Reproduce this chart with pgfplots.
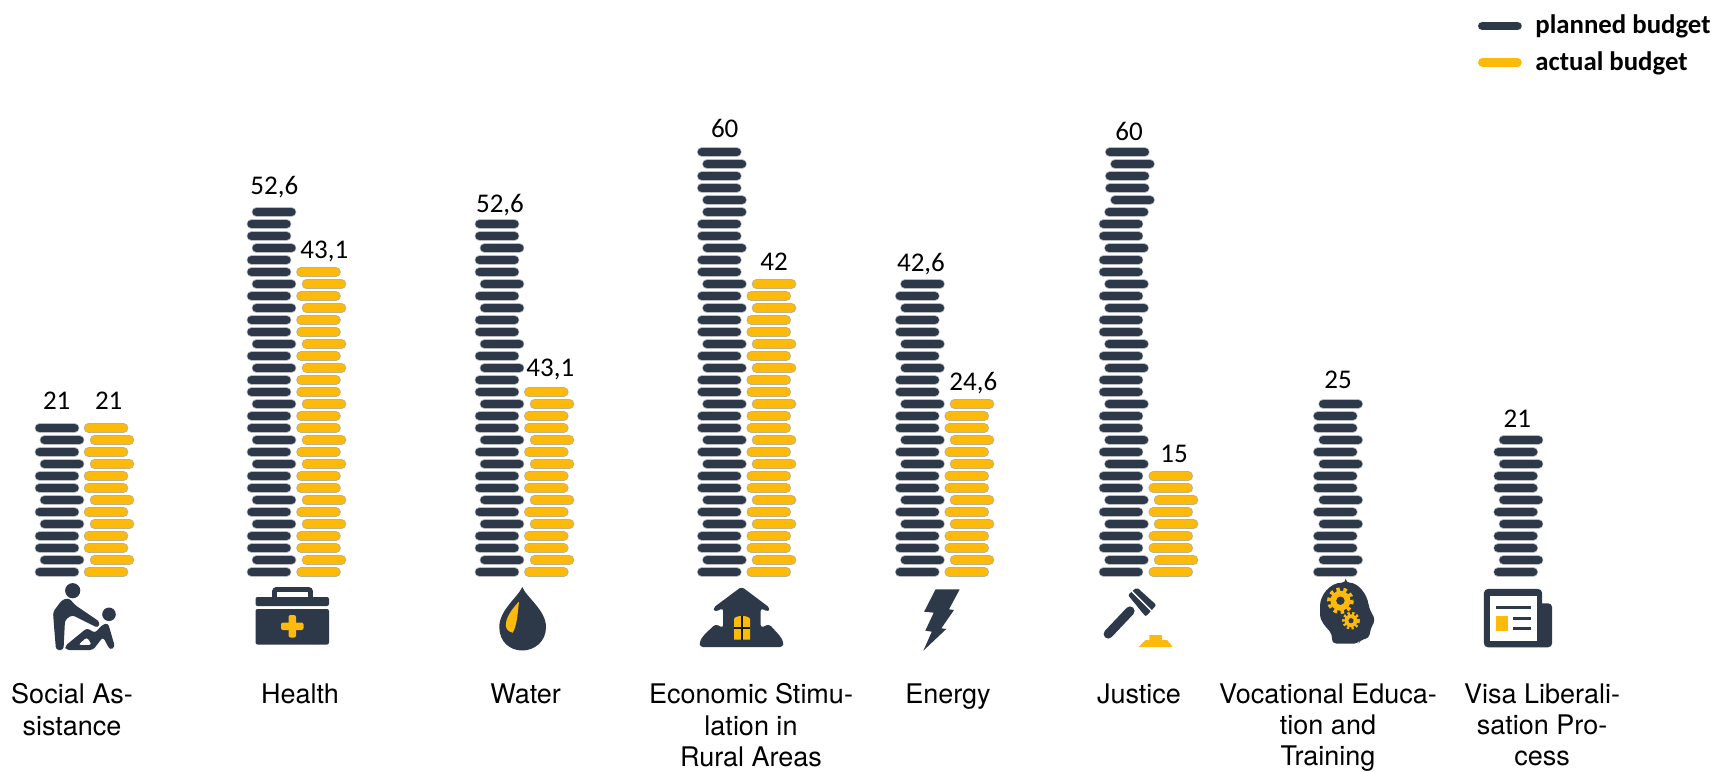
\documentclass[border=0pt]{standalone}
\usepackage{pgfplots}
\usepackage{fontspec}
\pgfplotsset{compat=1.18}
\setmainfont{TeX Gyre Heros}
\newfontfamily\carlito{Carlito}
\definecolor{navy}{HTML}{2D3849}
\definecolor{navyhalo}{HTML}{B9BDC3}
\definecolor{gold}{HTML}{FDBA0A}
\definecolor{goldhalo}{HTML}{BDB28A}
\newcommand{\brickpath}{\pgfpathmoveto{\pgfqpoint{-8.75pt}{0pt}}\pgfpathlineto{\pgfqpoint{8.75pt}{0pt}}\pgfusepathqstroke}
\pgfdeclareplotmark{brickN}{\pgfsetroundcap\pgfsetlinewidth{4.9pt}\pgfsetstrokecolor{navyhalo}\brickpath\pgfsetlinewidth{4.2pt}\pgfsetstrokecolor{navy}\brickpath}
\pgfdeclareplotmark{brickA}{\pgfsetroundcap\pgfsetlinewidth{4.8pt}\pgfsetstrokecolor{goldhalo}\brickpath\pgfsetlinewidth{3.8pt}\pgfsetstrokecolor{gold}\brickpath}
\begin{document}
\begin{tikzpicture}
\begin{axis}[
  scale only axis, width=858.5pt, height=385.5pt,
  xmin=0, xmax=1717, ymin=-16.583, ymax=47.667,
  clip=false, axis line style={draw=none},
  ytick=\empty, tick style={draw=none},
  xtick={72,300,525.6,751,948,1139,1328,1542},
  xticklabels={{Social As-\\sistance},{Health},{Water},{Economic Stimu-\\lation in\\Rural Areas},{Energy},{Justice},{Vocational Educa-\\tion and\\Training},{Visa Liberali-\\sation Pro-\\cess}},
  x tick label style={align=center, anchor=north, yshift=47.2pt, font=\fontsize{13.5}{15.6}\selectfont},
  legend cell align=left,
  legend style={at={(axis cs:1478,46.66)}, anchor=north west, draw=none, fill=none, inner sep=0pt, outer sep=0pt,
    font=\carlito\bfseries\fontsize{13.4}{15}\selectfont, row sep=4.3pt, column sep=3.8pt,
    nodes={inner xsep=3pt, inner ysep=1.5pt}},
  nodes near coords style={anchor=center, font=\carlito\fontsize{13.5}{16}\selectfont, text=black, inner sep=0pt},
]
% planned budget: brick centre x (pixels of the picture), brick row
\addplot[only marks, mark=brickN,
  legend image code/.code={\draw[line width=4.4pt, line cap=round, navy] (0pt,0pt) -- (17.5pt,0pt);}]
coordinates {
 (57,0)(62,1)(57,2)(57,3)(62,4)(57,5)(62,6)(57,7)(57,8)(62,9)(57,10)(62,11)(57,12)
 (269,0)(274,1)(269,2)(269,3)(274,4)(269,5)(274,6)(269,7)(269,8)(274,9)(269,10)(274,11)(269,12)(269,13)(274,14)(269,15)(269,16)(274,17)(269,18)(274,19)(269,20)(269,21)(274,22)(269,23)(274,24)(269,25)(269,26)(274,27)(269,28)(269,29)(274,30)
 (497,0)(502,1)(497,2)(497,3)(502,4)(497,5)(502,6)(497,7)(497,8)(502,9)(497,10)(502,11)(497,12)(497,13)(502,14)(497,15)(497,16)(502,17)(497,18)(502,19)(497,20)(497,21)(502,22)(497,23)(502,24)(497,25)(497,26)(502,27)(497,28)(497,29)
 (719.3,0)(724.5,1)(719.3,2)(719.3,3)(724.5,4)(719.3,5)(724.5,6)(719.3,7)(719.3,8)(724.5,9)(719.3,10)(724.5,11)(719.3,12)(719.3,13)(724.5,14)(719.3,15)(719.3,16)(724.5,17)(719.3,18)(724.5,19)(719.3,20)(719.3,21)(724.5,22)(719.3,23)(724.5,24)(719.3,25)(719.3,26)(724.5,27)(719.3,28)(719.3,29)(724.5,30)(724.5,31)(719.3,32)(719.3,33)(724.5,34)(719.3,35)
 (917.3,0)(922.5,1)(917.3,2)(917.3,3)(922.5,4)(917.3,5)(922.5,6)(917.3,7)(917.3,8)(922.5,9)(917.3,10)(922.5,11)(917.3,12)(917.3,13)(922.5,14)(917.3,15)(917.3,16)(922.5,17)(917.3,18)(922.5,19)(917.3,20)(917.3,21)(922.5,22)(917.3,23)(922.5,24)
 (1121,0)(1126.5,1)(1121,2)(1121,3)(1126.5,4)(1121,5)(1126.5,6)(1121,7)(1121,8)(1126.5,9)(1121,10)(1126.5,11)(1121,12)(1121,13)(1126.5,14)(1121,15)(1121,16)(1126.5,17)(1121,18)(1126.5,19)(1121,20)(1121,21)(1126.5,22)(1121,23)(1126.5,24)(1121,25)(1121,26)(1126.5,27)(1121,28)(1121,29)(1126.5,30)(1132.5,31)(1127.3,32)(1127.3,33)(1132.5,34)(1127.3,35)
 (1335.3,0)(1340.7,1)(1335.3,2)(1335.3,3)(1340.7,4)(1335.3,5)(1340.7,6)(1335.3,7)(1335.3,8)(1340.7,9)(1335.3,10)(1340.7,11)(1335.3,12)(1335.3,13)(1340.7,14)
 (1515.7,0)(1521,1)(1515.7,2)(1515.7,3)(1521,4)(1515.7,5)(1521,6)(1515.7,7)(1515.7,8)(1521,9)(1515.7,10)(1521,11)
};
\addlegendentry{planned budget}
% actual budget
\addplot[only marks, mark=brickA,
  legend image code/.code={\draw[line width=4.4pt, line cap=round, gold] (0pt,0pt) -- (17.5pt,0pt);}]
coordinates {
 (106,0)(112,1)(106,2)(106,3)(112,4)(106,5)(112,6)(106,7)(106,8)(112,9)(106,10)(112,11)(106,12)
 (318.5,0)(324,1)(318.5,2)(318.5,3)(324,4)(318.5,5)(324,6)(318.5,7)(318.5,8)(324,9)(318.5,10)(324,11)(318.5,12)(318.5,13)(324,14)(318.5,15)(318.5,16)(324,17)(318.5,18)(324,19)(318.5,20)(318.5,21)(324,22)(318.5,23)(324,24)(318.5,25)
 (546.3,0)(552,1)(546.3,2)(546.3,3)(552,4)(546.3,5)(552,6)(546.3,7)(546.3,8)(552,9)(546.3,10)(552,11)(546.3,12)(546.3,13)(552,14)(546.3,15)
 (768.7,0)(774,1)(768.7,2)(768.7,3)(774,4)(768.7,5)(774,6)(768.7,7)(768.7,8)(774,9)(768.7,10)(774,11)(768.7,12)(768.7,13)(774,14)(768.7,15)(768.7,16)(774,17)(768.7,18)(774,19)(768.7,20)(768.7,21)(774,22)(768.7,23)(774,24)
 (966.7,0)(972,1)(966.7,2)(966.7,3)(972,4)(966.7,5)(972,6)(966.7,7)(966.7,8)(972,9)(966.7,10)(972,11)(966.7,12)(966.7,13)(972,14)
 (1170.7,0)(1176,1)(1170.7,2)(1170.7,3)(1176,4)(1170.7,5)(1176,6)(1170.7,7)(1170.7,8)
};
\addlegendentry{actual budget}
% value labels
\addplot[forget plot, draw=none, mark=none, nodes near coords, point meta=explicit symbolic]
table[meta=label] {
x y label
56.7 14.27 21
108.7 14.27 21
274.3 32.05 52,6
324.3 26.7 43,1
500 30.55 52,6
550.3 16.87 43,1
724.7 36.97 60
774 25.86 42
921 25.63 42,6
973.3 15.74 24,6
1129 36.75 60
1174 9.8 15
1338 16 25
1517.3 12.78 21
};
\end{axis}
% icons: drawn in picture pixels, y downwards
\begin{scope}[shift={(0pt,385.5pt)},x=0.5pt,y=-0.5pt]
 % social assistance
 \fill[navy] (72.7,590.7) circle (7.6);
 \fill[navy,rounded corners=1.5] (62,600) -- (69,598) -- (75,605) -- (100,622) -- (98,628) -- (72,615) -- (65,620) -- (63.5,650) -- (56,650) -- (54,626) -- (53,612) -- cycle;
 \fill[navy] (109,614.3) circle (6.8);
 \fill[navy,rounded corners=1.5,even odd rule] (102,625) -- (108,623) -- (115,647) -- (110,650) -- (103,637) -- (93,650) -- (66,650) -- (65,646) -- (87,628) -- (95,633) -- cycle (78,645) -- (87,637) -- (92,645) -- cycle;
 % health
 \draw[navy,line width=2.4pt,rounded corners=1] (274.5,598) -- (274.5,589.5) -- (310.5,589.5) -- (310.5,598);
 \fill[navy,rounded corners=1] (255.5,597) rectangle (329,606);
 \fill[navy,rounded corners=1] (255.5,609) rectangle (329,644.5);
 \fill[gold,rounded corners=1] (281,622.5) rectangle (303.5,630);
 \fill[gold,rounded corners=1] (288.5,615) rectangle (296,637.5);
 % water
 \fill[navy] (522.3,587) .. controls (526,597) and (546,610) .. (546,627) .. controls (546,642) and (534,650.5) .. (522.3,650.5) .. controls (510,650.5) and (499.3,642) .. (499.3,627) .. controls (499.3,610) and (518,597) .. (522.3,587) -- cycle;
 \fill[gold] (519,601.5) .. controls (517.5,615) and (517,625) .. (512.7,632.7) .. controls (508,631.5) and (505,629) .. (506,623) .. controls (507,615) and (514,607) .. (519,601.5) -- cycle;
 % economic stimulation
 \fill[navy,rounded corners=1.5] (741.6,586.7) -- (770,608) -- (768,612) -- (760.7,608) -- (760.7,628) -- (769,624) -- (780,636) -- (783.5,642) -- (783,647) -- (700,647) -- (699.5,642) -- (703,636) -- (715.5,624) -- (723.2,628) -- (723.2,608) -- (715,612) -- (713,608) -- cycle;
 \fill[gold] (734,619) .. controls (735,615) and (749,615) .. (750,619) -- (750,639.5) -- (734,639.5) -- cycle;
 \draw[black!60!navy,line width=0.6pt] (742,616) -- (742,639.5) (734,628) -- (750,628);
 % energy
 \fill[navy] (935.6,589.3) -- (959.7,589.3) -- (949,609.3) -- (954,610) -- (941.3,628.3) -- (946.3,629) -- (923.3,650.7) -- (931.8,631.7) -- (925.3,630.7) -- (933.7,612.7) -- (924.1,611.7) -- cycle;
 % justice
 \fill[navy,rounded corners=1] (1127.9,595) -- (1136.8,587.3) -- (1156.4,605) -- (1145.7,616.7) -- cycle;
 \draw[white,line width=0.7pt] (1131.5,591) -- (1151.5,611) ;
 \draw[navy,line width=4.6pt,line cap=round] (1130,611) -- (1108.2,634);
 \fill[gold] (1138.6,647) -- (1172.5,647) -- (1167.1,640) -- (1161.8,640) -- (1161.8,635) -- (1149.3,635) -- (1149.3,640) -- (1145.7,640) -- cycle;
 % vocational education
 \fill[navy,rounded corners=2] (1345.7,582.7) .. controls (1330,582.7) and (1320,595) .. (1320,610) .. controls (1320,622) and (1327,628) .. (1332,634) -- (1332,643.5) -- (1358.5,643.5) -- (1360,640) -- (1369,638.3) -- (1370.7,628.3) -- (1375.4,620) -- (1369,608) .. controls (1367,594) and (1358,582.7) .. (1345.7,582.7) -- cycle;
 \draw[gold,line width=2.4pt,dash pattern=on 1.7pt off 1.7pt] (1340.4,600.7) circle (11);
 \fill[gold] (1340.4,600.7) circle (10);
 \fill[navy] (1340.4,600.7) circle (4.2);
 \draw[gold,line width=1.6pt,dash pattern=on 1.1pt off 1.1pt] (1351,620.7) circle (7.3);
 \fill[gold] (1351,620.7) circle (6.4);
 \fill[navy] (1351,620.7) circle (2.6);
 % visa liberalisation
 \fill[navy,rounded corners=2] (1535,603.3) rectangle (1552.1,647.3);
 \fill[navy,rounded corners=2] (1483.9,589) rectangle (1542.1,647.3);
 \fill[white] (1490.4,596) rectangle (1536.8,641);
 \draw[navy,line width=1.3pt] (1495.7,607.7) -- (1531.4,607.7) (1512.9,618.3) -- (1531.4,618.3) (1512.9,628.3) -- (1531.4,628.3);
 \fill[gold] (1495.7,615.7) rectangle (1508.2,630.7);
\end{scope}
\pgfresetboundingbox
\path[use as bounding box] (0,0) rectangle (858.5pt,385.5pt);
\end{tikzpicture}
\end{document}
